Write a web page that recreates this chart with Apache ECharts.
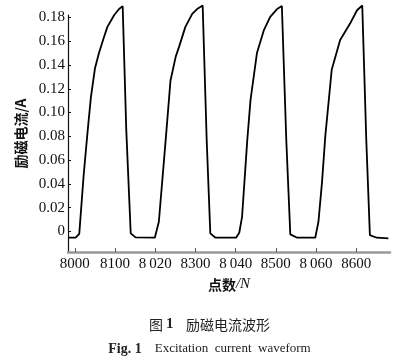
<!DOCTYPE html>
<html>
<head>
<meta charset="utf-8">
<script src="https://cdn.jsdelivr.net/npm/echarts@6/dist/echarts.min.js"></script>
<style>
html,body{margin:0;padding:0;background:#fff;}
#chart{width:419px;height:356px;}
</style>
</head>
<body>
<div id="chart"></div>
<script>
// Sample index N
const sampleN = [
  7998.3, 8000.2, 8001.1, 8002.2, 8003.2, 8004.0, 8005.0, 8006.0, 8007.3, 8008.1, 8009.8, 8011.0, 8011.9,
  8012.8, 8013.9, 8015.1, 8019.9,
  8020.9, 8022.6, 8023.8, 8025.1, 8025.9, 8027.5, 8029.2, 8030.6, 8031.8,
  8032.8, 8033.7, 8035.0, 8040.1,
  8040.9, 8041.6, 8042.9, 8043.7, 8045.3, 8047.0, 8048.6, 8050.3, 8051.5,
  8052.6, 8053.6, 8055.3, 8059.8,
  8060.6, 8061.5, 8062.3, 8063.9, 8066.0, 8068.5, 8070.2, 8071.5,
  8072.5, 8073.4, 8075.1, 8078.0
];
// Excitation current (A)
const current = [
  -0.0052, -0.0052, -0.0020, 0.0475, 0.0850, 0.1130, 0.1370, 0.1500, 0.1640, 0.1720, 0.1820, 0.1870, 0.1895,
  0.0850, -0.0015, -0.0049, -0.0052,
  0.0082, 0.0770, 0.1270, 0.1470, 0.1550, 0.1720, 0.1830, 0.1875, 0.1900,
  0.0770, -0.0015, -0.0052, -0.0052,
  -0.0010, 0.0124, 0.0770, 0.1105, 0.1500, 0.1690, 0.1805, 0.1870, 0.1895,
  0.0770, -0.0024, -0.0052, -0.0052,
  0.0082, 0.0420, 0.0800, 0.1360, 0.1610, 0.1750, 0.1860, 0.1900,
  0.0770, -0.0030, -0.0052, -0.0057
];
const xTickValues = [8000, 8010, 8020, 8030, 8040, 8050, 8060, 8070];
const xTickLabels = ['8000', '8100', '8\u2009020', '8300', '8\u2009040', '8500', '8\u2009060', '8600'];
const yTickValues = [0, 0.02, 0.04, 0.06, 0.08, 0.10, 0.12, 0.14, 0.16, 0.18];

const serif = '"Liberation Serif", "DejaVu Serif", serif';
const cjk = '"Noto Sans CJK SC", sans-serif';

const chart = echarts.init(document.getElementById('chart'), null, {renderer: 'canvas'});
chart.setOption({
  animation: false,
  backgroundColor: '#fff',
  grid: {left: 68, right: 29, top: 15, bottom: 104, containLabel: false},
  title: [
    {
      text: '图 {b|1}    励磁电流波形',
      left: 'center', top: 312,
      textStyle: {fontFamily: cjk, fontSize: 14, fontWeight: 'normal', color: '#222',
        rich: {b: {fontFamily: serif, fontWeight: 'bold', fontSize: 15, color: '#222'}}}
    },
    {
      text: '{b|Fig. 1}    Excitation  current  waveform',
      left: 'center', top: 337,
      textStyle: {fontFamily: serif, fontSize: 13, fontWeight: 'normal', color: '#222',
        rich: {b: {fontFamily: serif, fontWeight: 'bold', fontSize: 14, color: '#222'}}}
    }
  ],
  xAxis: {
    type: 'value',
    min: 7998.3, max: 8078.4,
    name: '{c|点数}{i|/N}',
    nameLocation: 'middle', nameGap: 25,
    nameTextStyle: {rich: {
      c: {fontFamily: cjk, fontSize: 14, fontWeight: 'bold', color: '#111'},
      i: {fontFamily: serif, fontSize: 15, fontStyle: 'italic', color: '#111'}
    }},
    axisLine: {show: true, onZero: false, lineStyle: {color: '#999', width: 2.5}},
    axisTick: {show: true, inside: true, length: 4, customValues: xTickValues, lineStyle: {color: '#555', width: 1}},
    axisLabel: {
      customValues: xTickValues, margin: 5,
      fontFamily: serif, fontSize: 15, color: '#111',
      formatter: function (v) { return xTickLabels[Math.round((v - 8000) / 10)] || ''; }
    },
    splitLine: {show: false}
  },
  yAxis: {
    type: 'value',
    min: -0.0172, max: 0.182,
    name: '励磁电流/A',
    nameLocation: 'middle', nameGap: 38, nameRotate: 90,
    nameTextStyle: {fontFamily: cjk, fontSize: 14, fontWeight: 'bold', color: '#111'},
    axisLine: {show: true, onZero: false, lineStyle: {color: '#111', width: 1.2}},
    axisTick: {show: true, inside: true, length: 3, customValues: yTickValues, lineStyle: {color: '#111', width: 1}},
    axisLabel: {
      customValues: yTickValues, margin: 3,
      fontFamily: serif, fontSize: 15, color: '#111',
      formatter: function (v) { return Math.abs(v) < 1e-9 ? '0' : v.toFixed(2); }
    },
    splitLine: {show: false}
  },
  series: [{
    type: 'line',
    data: sampleN.map((n, i) => [n, current[i]]),
    showSymbol: false,
    clip: false,
    lineStyle: {color: '#000', width: 1.8},
    itemStyle: {color: '#000'}
  }]
});
</script>
</body>
</html>
